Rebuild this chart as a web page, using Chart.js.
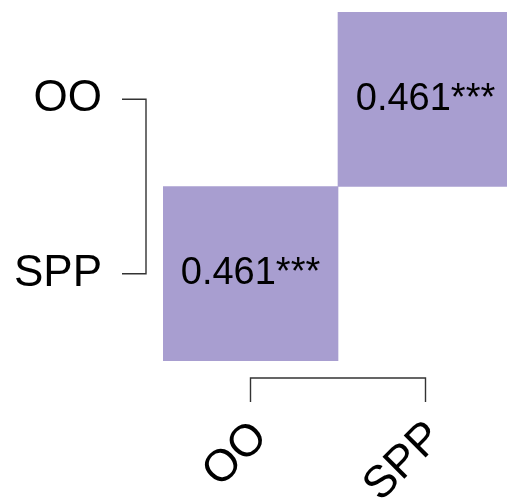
<!DOCTYPE html>
<html>
<head>
<meta charset="utf-8">
<script src="https://cdn.jsdelivr.net/npm/chart.js@4/dist/chart.umd.min.js"></script>
<style>
  html, body { margin: 0; padding: 0; overflow: hidden; background: #ffffff; width: 507px; height: 501px; }
  #wrap { width: 513px; height: 501px; }
</style>
</head>
<body>
<div id="wrap"><canvas id="c" width="513" height="501"></canvas></div>
<script>
// Variables (same order on both axes); rows listed top to bottom
const variables = ['OO', 'SPP'];
// Correlation matrix: correlations[row][col]; null = blank cell (diagonal)
const correlations = [
  [null, 0.461],
  [0.461, null]
];
// Significance stars per cell
const significance = [
  ['', '***'],
  ['***', '']
];

const cellColor = 'rgb(168,158,208)';
const FONT = "'Liberation Sans', Arial, sans-serif";

const datasets = variables.map((rowName, i) => ({
  label: rowName,
  data: variables.map((colName, j) => correlations[i][j] === null ? null : [i - 0.5, i + 0.5]),
  backgroundColor: cellColor,
  borderWidth: 0,
  grouped: false,
  barPercentage: 1,
  categoryPercentage: 1,
  rowIndex: i
}));

const cellLabels = {
  id: 'cellLabels',
  afterDatasetsDraw(chart) {
    const ctx = chart.ctx;
    ctx.save();
    ctx.font = '38px ' + FONT;
    ctx.fillStyle = '#000';
    ctx.textAlign = 'center';
    ctx.textBaseline = 'middle';
    chart.data.datasets.forEach((ds, di) => {
      const meta = chart.getDatasetMeta(di);
      meta.data.forEach((el, j) => {
        const v = correlations[ds.rowIndex][j];
        if (v === null) return;
        const cx = el.x;
        const cy = (el.y + el.base) / 2;
        ctx.fillText(v.toFixed(3) + significance[ds.rowIndex][j], cx, cy);
      });
    });
    ctx.restore();
  }
};

const brackets = {
  id: 'brackets',
  afterDraw(chart) {
    const ctx = chart.ctx;
    const xs = chart.scales.x, ys = chart.scales.y;
    const area = chart.chartArea;
    ctx.save();
    ctx.strokeStyle = '#333';
    ctx.lineWidth = 1.4;
    // y bracket
    const bx = area.left - 17;
    const y0 = ys.getPixelForValue(0), y1 = ys.getPixelForValue(variables.length - 1);
    ctx.beginPath();
    ctx.moveTo(bx - 24, y0); ctx.lineTo(bx, y0); ctx.lineTo(bx, y1); ctx.lineTo(bx - 24, y1);
    ctx.stroke();
    // x bracket
    const by = area.bottom + 17;
    const x0 = xs.getPixelForValue(0), x1 = xs.getPixelForValue(variables.length - 1);
    ctx.beginPath();
    ctx.moveTo(x0, by + 24); ctx.lineTo(x0, by); ctx.lineTo(x1, by); ctx.lineTo(x1, by + 24);
    ctx.stroke();
    ctx.restore();
  }
};

new Chart(document.getElementById('c'), {
  type: 'bar',
  data: { labels: variables, datasets },
  options: {
    responsive: false,
    animation: false,
    devicePixelRatio: 1,
    layout: { padding: { top: 12, left: 0, right: 0, bottom: 0 } },
    plugins: { legend: { display: false }, tooltip: { enabled: false } },
    scales: {
      x: {
        type: 'category',
        offset: true,
        grid: { display: false, drawTicks: false },
        border: { display: false },
        ticks: {
          autoSkip: false,
          minRotation: 45,
          maxRotation: 45,
          padding: 50,
          labelOffset: 10,
          color: '#000',
          font: { family: FONT, size: 45 }
        },
        afterFit(scale) {
          scale.height = 140;
          scale.paddingLeft = 0; scale.paddingRight = 0;
        }
      },
      y: {
        type: 'linear',
        min: -0.5,
        max: variables.length - 0.5,
        reverse: true,
        grid: { display: false, drawTicks: false },
        border: { display: false },
        afterBuildTicks(scale) { scale.ticks = variables.map((v, i) => ({ value: i })); },
        ticks: {
          padding: 61,
          color: '#000',
          font: { family: FONT, size: 44 },
          callback: (val) => variables[val]
        },
        afterFit(scale) {
          scale.width = 163;
          scale.paddingTop = 0; scale.paddingBottom = 0;
        }
      }
    }
  },
  plugins: [cellLabels, brackets]
});
</script>
</body>
</html>
